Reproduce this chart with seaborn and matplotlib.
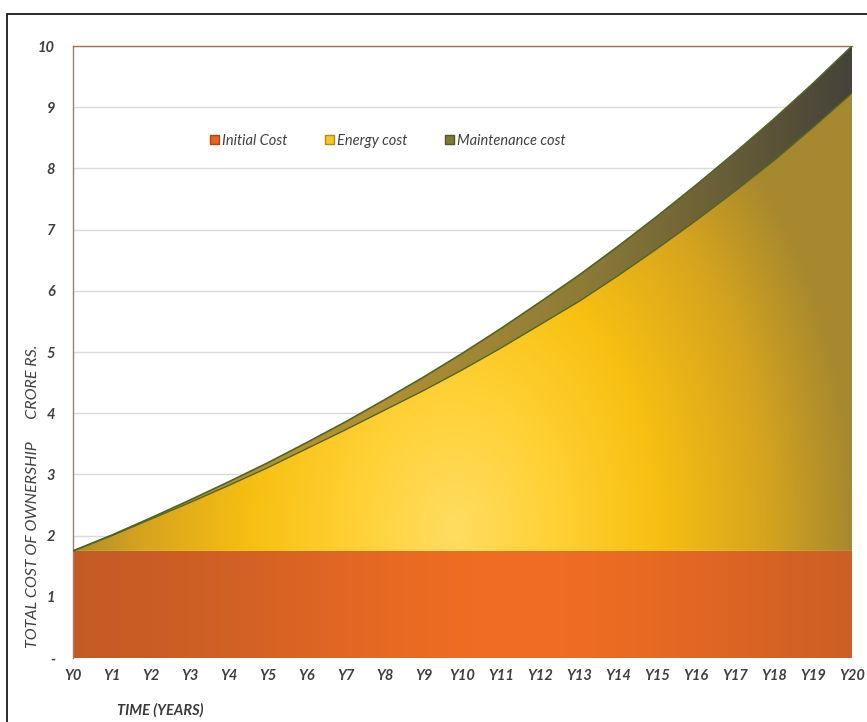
import numpy as np
import pandas as pd
import matplotlib.pyplot as plt
import seaborn as sns
from matplotlib.patches import Patch, Rectangle
from matplotlib.colors import LinearSegmentedColormap, to_rgb

# Data (crore Rs., cumulative, stacked)
years = ['Y0', 'Y1', 'Y2', 'Y3', 'Y4', 'Y5', 'Y6', 'Y7', 'Y8', 'Y9', 'Y10',
         'Y11', 'Y12', 'Y13', 'Y14', 'Y15', 'Y16', 'Y17', 'Y18', 'Y19', 'Y20']
initial_cost = [1.75] * 21
energy_cost = [0.00, 0.25, 0.52, 0.79, 1.07, 1.36, 1.67, 1.98, 2.30, 2.62, 2.96,
               3.32, 3.70, 4.08, 4.50, 4.94, 5.40, 5.88, 6.38, 6.92, 7.48]
maintenance_cost = [0.00, 0.01, 0.02, 0.04, 0.06, 0.08, 0.10, 0.13, 0.17, 0.22, 0.27,
                    0.32, 0.37, 0.43, 0.48, 0.53, 0.58, 0.63, 0.68, 0.72, 0.77]
ytick_labels = ['-', '1', '2', '3', '4', '5', '6', '7', '8', '9', '10']
legend_labels = ['Initial Cost', 'Energy cost', 'Maintenance cost']

df = pd.DataFrame({'year': years, 'initial': initial_cost,
                   'energy': energy_cost, 'maint': maintenance_cost})
df['idx'] = np.arange(len(df))
df['energy_top'] = df['initial'] + df['energy']
df['total'] = df['energy_top'] + df['maint']

sns.set_style("white")
plt.rcParams['font.family'] = ['Lato', 'DejaVu Sans']

W, H = 867, 722
fig = plt.figure(figsize=(W / 100, H / 100), dpi=100)
ax = fig.add_axes([73 / W, 1 - 658 / H, (852 - 73) / W, (658 - 46) / H])

xmax = len(years) - 1
gx = np.linspace(0, xmax, 600)
gy = np.linspace(0, 10, 500)
X, Y = np.meshgrid(gx, gy)


def gradient_fill(lo, hi, rgb, z):
    coll = ax.fill_between(df['idx'], lo, hi, facecolor='none', edgecolor='none', zorder=z)
    im = ax.imshow(rgb, extent=[0, xmax, 0, 10], origin='lower', aspect='auto',
                   interpolation='bilinear', zorder=z)
    im.set_clip_path(coll.get_paths()[0], transform=ax.transData)


# initial cost: horizontal glow
edge, mid = np.array(to_rgb('#C05926')), np.array(to_rgb('#F06D22'))
w = np.exp(-((X - 11.5) / 7.5) ** 2)[..., None]
orange = edge * (1 - w) + mid * w
gradient_fill(0, df['initial'], orange, 2)

# energy cost: radial glow
cmap_e = LinearSegmentedColormap.from_list('e', [(0, '#FFDD62'), (0.25, '#FFD135'),
                                                 (0.5, '#F8C012'), (0.78, '#D6A41E'),
                                                 (1.0, '#A6882E')])
d = np.sqrt(((X - 9.8) * 38.95 / 400) ** 2 + ((Y - 2.1) * 61.2 / 550) ** 2)
gradient_fill(df['initial'], df['energy_top'], cmap_e(np.clip(d, 0, 1))[..., :3], 2)

# maintenance: olive to dark grey
cmap_m = LinearSegmentedColormap.from_list('m', [(0, '#B89634'), (0.4, '#B09032'),
                                                 (0.65, '#8E7C36'), (0.85, '#665C37'),
                                                 (1.0, '#45433A')])
gradient_fill(df['energy_top'], df['total'], cmap_m(X / xmax)[..., :3], 2)

sns.lineplot(data=df, x='idx', y='energy_top', color='#4F6428', lw=1.0, ax=ax, zorder=3)
sns.lineplot(data=df, x='idx', y='total', color='#4F6428', lw=1.2, ax=ax, zorder=3)

ax.set_xlim(0, xmax)
ax.set_ylim(0, 10)
ax.set_xticks(df['idx'], years)
ax.set_yticks(range(11), ytick_labels)
ax.set_xlabel('')
ax.set_ylabel('')
ax.tick_params(axis='x', length=0, pad=8)
ax.tick_params(axis='y', length=0, pad=13)
for lab in ax.get_xticklabels() + ax.get_yticklabels():
    lab.set_fontsize(10.5)
    lab.set_fontweight('bold')
    lab.set_fontstyle('italic')
    lab.set_color('#3F3F3F')

ax.set_axisbelow(True)
ax.yaxis.grid(True, color='#DADADA', lw=1)
ax.xaxis.grid(False)
for s in ['right', 'bottom']:
    ax.spines[s].set_visible(False)
ax.spines['left'].set_color('#9A8270')
ax.spines['top'].set_color('#A0735A')
ax.spines['left'].set_linewidth(1.0)
ax.spines['top'].set_linewidth(1.0)

handles = [Patch(facecolor='#E8641E', edgecolor='#A8461A'),
           Patch(facecolor='#F7C623', edgecolor='#B08C10'),
           Patch(facecolor='#7D7A32', edgecolor='#55542A')]
ax.legend(handles, legend_labels, loc='center', bbox_to_anchor=(0.404, 0.845), ncol=3,
          frameon=False, handlelength=0.6, handleheight=0.6, handletextpad=0.2,
          columnspacing=2.6, prop=dict(style='italic', size=10.5), labelcolor='#404040')

fig.text(160 / W, 1 - 710 / H, 'TIME (YEARS)', ha='center', va='center', fontsize=10.5,
         fontweight='bold', style='italic', color='#3A3A3A')
fig.text(33 / W, 1 - 496 / H, 'TOTAL COST OF OWNERSHIP      CRORE RS.', rotation=90,
         ha='center', va='center', fontsize=11.5, style='italic', color='#404040')

fig.add_artist(Rectangle((7 / W, -0.05), 1.0, 1 - 14 / H + 0.05, transform=fig.transFigure,
                         fill=False, edgecolor='#1A1A1A', lw=1.3))

fig.savefig('out.png', dpi=100)
